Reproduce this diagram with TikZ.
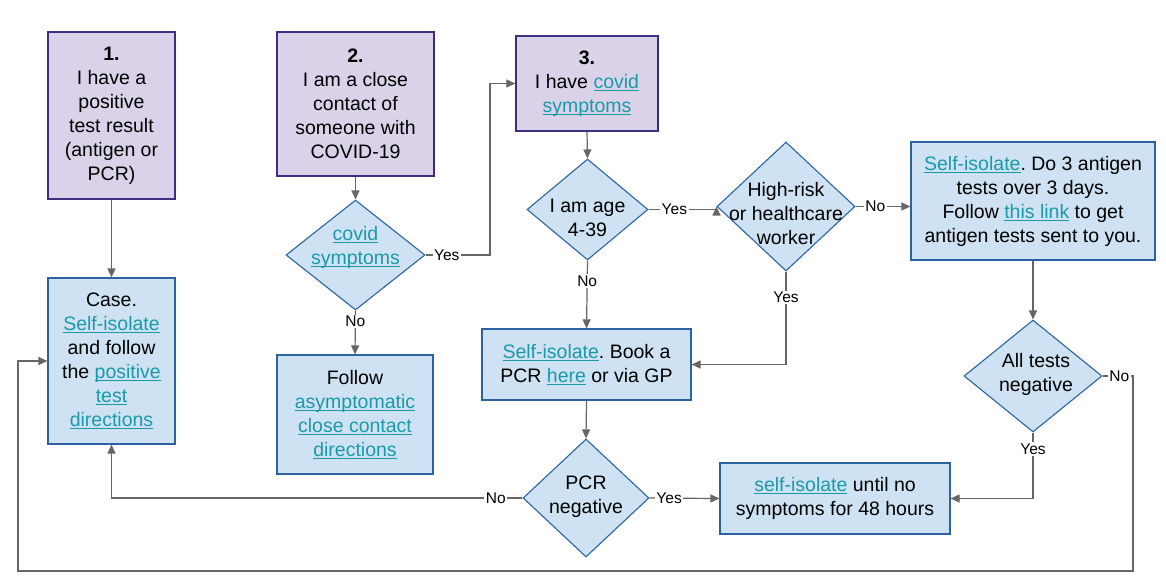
\documentclass[tikz,border=0pt]{standalone}
\usepackage{fontspec}
\setmainfont{Liberation Sans}
\usetikzlibrary{shapes.geometric,arrows.meta}
\frenchspacing
\definecolor{pfill}{HTML}{D9D2E9}
\definecolor{pdraw}{HTML}{3F2D82}
\definecolor{bfill}{HTML}{CFE2F3}
\definecolor{bdraw}{HTML}{2B63A0}
\definecolor{linkc}{HTML}{1A9AA8}
\definecolor{arrc}{HTML}{666666}
\newcommand\lnk[1]{\textcolor{linkc}{\setbox0\hbox{#1}\rlap{\rule[-2.8pt]{\wd0}{1.3pt}}\box0}}
\tikzset{
  pbox/.style={rectangle, draw=pdraw, fill=pfill, line width=1.3pt, align=center, inner sep=0pt,
    font=\fontsize{19.5}{24}\selectfont},
  bbox/.style={rectangle, draw=bdraw, fill=bfill, line width=1.2pt, align=center, inner sep=0pt,
    font=\fontsize{19.5}{24}\selectfont},
  dia/.style={diamond, draw=bdraw, fill=bfill, line width=1.1pt, inner sep=0pt},
  dtext/.style={align=center, inner sep=0pt, font=\fontsize{19.5}{24}\selectfont},
  arr/.style={draw=arrc, line width=1.2pt, -{Triangle[length=9pt,width=8pt]}},
  lbl/.style={fill=white, inner sep=1.5pt, font=\fontsize{15.5}{18}\selectfont, text=black},
}
\begin{document}
\begin{tikzpicture}[x=1pt,y=-1pt]
\fill[white] (0,0) rectangle (1166,587);
\useasboundingbox (0,0) rectangle (1166,587);

% boxes
\node[pbox, minimum width=127pt, minimum height=167pt] (b1) at (111.5,115.5)
  {\textbf{1.}\\I have a\\positive\\test result\\(antigen or\\PCR)};
\node[pbox, minimum width=157pt, minimum height=144pt] (b2) at (355.5,104)
  {\textbf{2.}\\I am a close\\contact of\\someone with\\COVID-19};
\node[pbox, minimum width=142pt, minimum height=95pt] (b3) at (587,83.5)
  {\textbf{3.}\\I have \lnk{covid}\\\lnk{symptoms}};
\node[bbox, minimum width=127pt, minimum height=166pt] (case) at (111.5,361)
  {Case.\\\lnk{Self-isolate}\\and follow\\the \lnk{positive}\\\lnk{test}\\\lnk{directions}};
\node[bbox, minimum width=156pt, minimum height=119pt] (follow) at (355,414.5)
  {Follow\\\lnk{asymptomatic}\\\lnk{close contact}\\\lnk{directions}};
\node[bbox, minimum width=244pt, minimum height=118pt] (anti) at (1033,201)
  {\lnk{Self-isolate}. Do 3 antigen\\tests over 3 days.\\Follow \lnk{this link} to get\\antigen tests sent to you.};
\node[bbox, minimum width=209pt, minimum height=71pt] (pcr) at (586.5,364.5)
  {\lnk{Self-isolate}. Book a\\PCR \lnk{here} or via GP};
\node[bbox, minimum width=230pt, minimum height=71pt] (si) at (835,498.5)
  {\lnk{self-isolate} until no\\symptoms for 48 hours};

% diamonds
\node[dia, minimum width=139pt, minimum height=110pt] (covid) at (355.5,255) {};
\node[dtext] (covidt) at (355.5,247) {\lnk{covid}\\\lnk{symptoms}};
\node[dia, minimum width=121pt, minimum height=101pt] (age) at (587.5,209.5) {};
\node[dtext] (aget) at (587.5,218) {I am age\\4-39};
\node[dia, minimum width=138pt, minimum height=129pt] (hr) at (786,206.5) {};
\node[dtext] (hrt) at (786,214) {High-risk\\or healthcare\\worker};
\node[dia, minimum width=138pt, minimum height=112pt] (all) at (1033,376) {};
\node[dtext] (allt) at (1036,374) {All tests\\negative};
\node[dia, minimum width=126pt, minimum height=118pt] (pneg) at (586,498) {};
\node[dtext] (pnegt) at (586,497) {PCR\\negative};

% helper coordinates
\coordinate (cY) at (490,84);
\coordinate (cR) at (1133,571);
\coordinate (cL) at (18,571);

% connectors
\draw[arr] (b1.south) -- (case.north);
\draw[arr] (b2.south) -- (covid.north);
\draw[arr] (covid.east) -- node[lbl,pos=.33]{Yes} (covid.east -| cY) |- (b3.west);
\draw[arr] (covid.south) -- node[lbl,pos=.25]{No} (follow.north);
\draw[arr] (b3.south) -- (age.north);
\draw[arr] (age.east) -- node[lbl,pos=.38]{Yes} (age.east -| hr.west) -- (hr.west);
\draw[arr] (hr.east) -- node[lbl,pos=.36]{No} (anti.west |- hr.east);
\draw[arr] (age.south) -- node[lbl,pos=.3]{No} (pcr.north);
\draw[arr] (hr.south) -- node[lbl,pos=.28]{Yes} (hr.south |- pcr.east) -- (pcr.east);
\draw[arr] (anti.south) -- (all.north);
\draw[arr] (all.east) -- node[lbl,pos=.55]{No} (all.east -| cR) -- (cR) -- (cL) |- (case.west);
\draw[arr] (all.south) -- node[lbl,pos=.25]{Yes} (all.south |- si.east) -- (si.east);
\draw[arr] (pcr.south) -- (pneg.north);
\draw[arr] (pneg.west) -- node[lbl,pos=.065]{No} (pneg.west -| case.south) -- (case.south);
\draw[arr] (pneg.east) -- node[lbl,pos=.28]{Yes} (si.west);
\end{tikzpicture}
\end{document}
